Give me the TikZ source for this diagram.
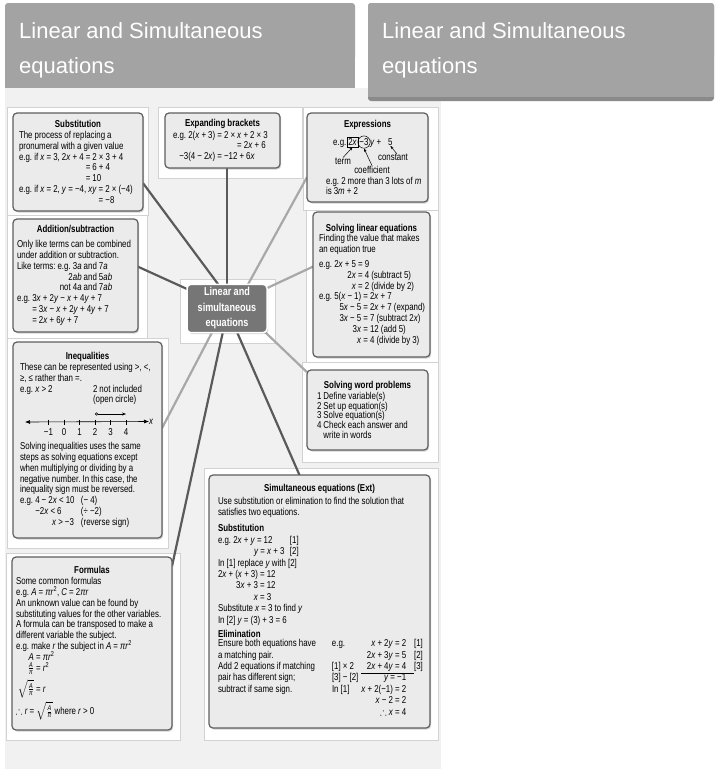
\documentclass[tikz,border=0pt]{standalone}
\usepackage{amsmath, amssymb}
\usepackage{fontspec}
\setmainfont{Liberation Sans}[FakeStretch=0.79, WordSpace=0.95]
\newfontfamily\headfont{Liberation Sans}
\usetikzlibrary{arrows.meta, shadows, positioning}

\definecolor{headgray}{HTML}{A3A3A3}
\definecolor{headdark}{HTML}{8A8A8A}
\definecolor{mapbg}{HTML}{F1F1F1}
\definecolor{panelline}{HTML}{D2D2D2}
\definecolor{cardfill}{HTML}{EBEBEB}
\definecolor{cardline}{HTML}{5E5E5E}
\definecolor{hubfill}{HTML}{767676}
\definecolor{spokedark}{HTML}{5A5A5A}
\definecolor{spokegray}{HTML}{A8A8A8}

\pgfdeclarelayer{bg}
\pgfsetlayers{bg,main}

\newcommand{\vr}[1]{\textit{#1}}
\newcommand{\cardhead}[2]{\makebox[#1]{\bfseries #2}}
\newlength{\eqw}
\newcommand{\lhsbox}[2]{\settowidth{\eqw}{#1}\makebox[\eqw][r]{#2}}

\begin{document}
\frenchspacing
\begin{tikzpicture}[x=1pt, y=-1pt,
        card/.style={rectangle, draw=cardline, line width=1.2pt, fill=cardfill, rounded corners=4pt,
            drop shadow={shadow xshift=1.2pt, shadow yshift=-1.5pt, opacity=0.35},
            inner xsep=4pt, inner ysep=3pt, outer sep=0pt, align=left, font=\fontsize{10}{10.8}\selectfont},
        hub/.style={rectangle, draw=white, line width=1.5pt, fill=hubfill, rounded corners=4pt, text=white,
            drop shadow={shadow xshift=1.2pt, shadow yshift=-1.5pt, opacity=0.35},
            minimum width=80pt, minimum height=47pt, outer sep=0pt, align=center,
            font=\bfseries\fontsize{11.5}{15.5}\selectfont},
        panel/.style={draw=panelline, fill=white, line width=0.6pt},
        headtext/.style={text=white, inner sep=0pt, anchor=base west, font=\headfont\fontsize{22}{26}\selectfont},
        spoke/.style={line width=2.2pt, color=spokedark},
        lightspoke/.style={line width=2.2pt, color=spokegray},
        pointer/.style={-{Stealth[length=3.5pt, width=2.6pt]}, line width=0.5pt},
        note/.style={inner sep=0pt, font=\fontsize{10}{10.8}\selectfont}
    ]
    \useasboundingbox (0,0) rectangle (716,769);

    \begin{pgfonlayer}{bg}
        \fill[mapbg] (5,88) rectangle (441,769);
        \foreach \xa/\ya/\xb/\yb in {7/107/148/215, 158/107/302/178, 303/107/438/210, 7/215/147/338,
                180/279/275/343, 306/210/438/362, 7/338/168/548, 302/362/438/462,
                204/468/438/740, 6/553/180/740}
            \draw[panel] (\xa,\ya) rectangle (\xb,\yb);
    \end{pgfonlayer}

    \fill[headgray, rounded corners=3pt] (5,3) rectangle (355,60);
    \fill[headgray] (5,30) rectangle (355,88);
    \fill[headdark, rounded corners=3pt] (368,3) rectangle (714,101);
    \fill[headgray, rounded corners=3pt] (368,3) rectangle (714,60);
    \fill[headgray] (368,30) rectangle (714,97);
    \node[headtext] (headL) at (19,38) {Linear and Simultaneous};
    \node[headtext] (headLb) at (19,73) {equations};
    \node[headtext] (headR) at (382,38) {Linear and Simultaneous};
    \node[headtext] (headRb) at (382,73) {equations};

    \node[card, minimum height=98pt] (subst) at (78,162)
        {\cardhead{122pt}{Substitution}\\
         \hspace*{2pt}The process of replacing a\\
         \hspace*{2pt}pronumeral with a given value\\
         \hspace*{2pt}e.g. if \vr{x} = 3, 2\vr{x} + 4 = 2 × 3 + 4\\
         \lhsbox{\hspace*{2pt}e.g. if \vr{x} = 3, 2\vr{x} + 4 }{}= 6 + 4\\
         \lhsbox{\hspace*{2pt}e.g. if \vr{x} = 3, 2\vr{x} + 4 }{}= 10\\
         \hspace*{2pt}e.g. if \vr{x} = 2, \vr{y} = −4, \vr{xy} = 2 × (−4)\\
         \lhsbox{\hspace*{2pt}e.g. if \vr{x} = 2, \vr{y} = −4, \vr{xy} }{}= −8};

    \node[card, minimum height=55pt] (expand) at (222.5,140.5)
        {\cardhead{107pt}{Expanding brackets}\\[1pt]
         \hspace*{4pt}e.g. 2(\vr{x} + 3) = 2 × \vr{x} + 2 × 3\\
         \lhsbox{\hspace*{4pt}e.g. 2(\vr{x} + 3) = 2 × }{}= 2\vr{x} + 6\\
         \lhsbox{\hspace*{4pt}e.g. 2(\vr{x} + 3) }{−3(4 − 2\vr{x}) }= −12 + 6\vr{x}};

    \node[card, minimum height=89pt] (expr) at (367.5,157.5)
        {\cardhead{113pt}{Expressions}\\[46pt]
         \hspace*{15pt}e.g. 2 more than 3 lots of \vr{m}\\
         \hspace*{15pt}is 3\vr{m} + 2};

    \node[card, minimum height=113pt] (addsub) at (75.5,275.5)
        {\cardhead{117pt}{Addition/subtraction}\\[4pt]
         Only like terms can be combined\\
         under addition or subtraction.\\
         Like terms: e.g. 3\vr{a} and 7\vr{a}\\
         \lhsbox{Like terms: e.g. 3\vr{a} }{2\vr{ab} }and 5\vr{ab}\\
         \lhsbox{Like terms: e.g. 3\vr{a} }{not 4\vr{a} }and 7\vr{ab}\\
         e.g. 3\vr{x} + 2\vr{y} − \vr{x} + 4\vr{y} + 7\\
         \lhsbox{e.g. }{}= 3\vr{x} − \vr{x} + 2\vr{y} + 4\vr{y} + 7\\
         \lhsbox{e.g. }{}= 2\vr{x} + 6\vr{y} + 7};

    \node[card, minimum height=145pt] (solve) at (371.5,284.5)
        {\cardhead{109pt}{Solving linear equations}\\
         \hspace*{2pt}Finding the value that makes\\
         \hspace*{2pt}an equation true\\[4pt]
         \hspace*{2pt}e.g. 2\vr{x} + 5 = 9\\
         \lhsbox{\hspace*{2pt}e.g. 2\vr{x} + 5 }{2\vr{x} }= 4 (subtract 5)\\
         \lhsbox{\hspace*{2pt}e.g. 2\vr{x} + 5 }{\vr{x} }= 2 (divide by 2)\\
         \hspace*{2pt}e.g. 5(\vr{x} − 1) = 2\vr{x} + 7\\
         \lhsbox{\hspace*{2pt}e.g. 5(\vr{x} − 1) }{5\vr{x} − 5 }= 2\vr{x} + 7 (expand)\\
         \lhsbox{\hspace*{2pt}e.g. 5(\vr{x} − 1) }{3\vr{x} − 5 }= 7 (subtract 2\vr{x})\\
         \lhsbox{\hspace*{2pt}e.g. 5(\vr{x} − 1) }{3\vr{x} }= 12 (add 5)\\
         \lhsbox{\hspace*{2pt}e.g. 5(\vr{x} − 1) }{\vr{x} }= 4 (divide by 3)};

    \node[card, inner xsep=5pt, minimum height=80pt, font=\fontsize{10}{9.8}\selectfont] (word) at (367.5,410)
        {\cardhead{111pt}{Solving word problems}\\[1pt]
         \hspace*{5pt}1 Define variable(s)\\
         \hspace*{5pt}2 Set up equation(s)\\
         \hspace*{5pt}3 Solve equation(s)\\
         \hspace*{5pt}4 Check each answer and\\
         \lhsbox{\hspace*{5pt}4 }{}write in words};

    \node[card, minimum height=196pt] (ineq) at (87.5,440)
        {\cardhead{141pt}{Inequalities}\\
         \hspace*{3pt}These can be represented using >, <,\\
         \hspace*{3pt}≥, ≤ rather than =.\\
         \hspace*{3pt}\makebox[73pt][l]{e.g. \vr{x} > 2}2 not included\\
         \hspace*{76pt}(open circle)\\[36pt]
         \hspace*{3pt}Solving inequalities uses the same\\
         \hspace*{3pt}steps as solving equations except\\
         \hspace*{3pt}when multiplying or dividing by a\\
         \hspace*{3pt}negative number. In this case, the\\
         \hspace*{3pt}inequality sign must be reversed.\\
         \hspace*{3pt}\makebox[61pt][l]{e.g. 4 − 2\vr{x} < 10}(− 4)\\
         \hspace*{3pt}\makebox[61pt][l]{\lhsbox{e.g. }{}−2\vr{x} < 6}(÷ −2)\\
         \hspace*{3pt}\makebox[61pt][l]{\hspace*{32pt}\vr{x} > −3}(reverse sign)};

    \node[card, minimum height=173pt] (form) at (92,643.5)
        {\cardhead{152pt}{Formulas}\\
         Some common formulas\\
         e.g. \vr{A} = \vr{πr}\textsuperscript{2}, \vr{C} = 2\vr{πr}\\
         An unknown value can be found by\\
         substituting values for the other variables.\\
         A formula can be transposed to make a\\
         different variable the subject.\\
         e.g. make \vr{r} the subject in \vr{A} = \vr{πr}\textsuperscript{2}\\
         \makebox[18pt][r]{\vr{A}} = \vr{πr}\textsuperscript{2}\\
         \makebox[18pt][r]{$\frac{\vr{A}}{\vr{π}}$} = \vr{r}\textsuperscript{2}\\[4pt]
         \makebox[18pt][r]{$\sqrt{\frac{\vr{A}}{\vr{π}}}$} = \vr{r}\\[3pt]
         $\therefore$ \vr{r} = $\sqrt{\frac{\vr{A}}{\vr{π}}}$\ where \vr{r} > 0};

    \node[card, minimum height=253pt, font=\fontsize{10}{11.4}\selectfont] (simul) at (319.5,601.5)
        {\cardhead{213pt}{Simultaneous equations (Ext)}\\[1pt]
         \hspace*{5pt}Use substitution or elimination to find the solution that\\
         \hspace*{5pt}satisfies two equations.\\[5pt]
         \hspace*{5pt}\textbf{Substitution}\\
         \hspace*{5pt}\makebox[72pt][l]{e.g. 2\vr{x} + \vr{y} = 12}[1]\\
         \hspace*{5pt}\makebox[72pt][l]{\hspace*{36pt}\vr{y} = \vr{x} + 3}[2]\\
         \hspace*{5pt}In [1] replace \vr{y} with [2]\\
         \hspace*{5pt}2\vr{x} + (\vr{x} + 3) = 12\\
         \lhsbox{\hspace*{5pt}2\vr{x} + (\vr{x} + 3) }{3\vr{x} + 3 }= 12\\
         \lhsbox{\hspace*{5pt}2\vr{x} + (\vr{x} + 3) }{\vr{x} }= 3\\
         \hspace*{5pt}Substitute \vr{x} = 3 to find \vr{y}\\
         \hspace*{5pt}In [2] \vr{y} = (3) + 3 = 6\\[3pt]
         \hspace*{5pt}\textbf{Elimination}\\
         \hspace*{5pt}\begin{tabular}{@{}p{114pt}@{}l@{\hspace{3pt}}r@{\hspace{8pt}}l@{}}
         Ensure both equations have & e.g. & \vr{x} + 2\vr{y} = 2 & [1]\\
         a matching pair. & & 2\vr{x} + 3\vr{y} = 5 & [2]\\
         Add 2 equations if matching & [1] × 2 & 2\vr{x} + 4\vr{y} = 4 & [3]\\ \cline{3-3}
         pair has different sign; & [3] − [2] & \vr{y} = −1 & \\
         subtract if same sign. & In [1] & \vr{x} + 2(−1) = 2 & \\
         & & \vr{x} − 2 = 2 & \\
         & & $\therefore$ \vr{x} = 4 &
         \end{tabular}};

    \node[hub] (hub) at (227,308.5) {Linear and\\simultaneous\\equations};

    \begin{pgfonlayer}{bg}
        \draw[spoke] (subst.-18) -- (hub.110);
        \draw[spoke] (hub.north) -- (hub.north |- expand.south);
        \draw[lightspoke] (expr.198) -- (hub.49);
        \draw[spoke] (addsub.8) -- (hub.154);
        \draw[lightspoke] (solve.163) -- (hub.27);
        \draw[lightspoke] (word.148) -- (hub.-32);
        \draw[lightspoke] (ineq.9) -- (hub.-122);
        \draw[spoke] (form.44) -- (hub.-100);
        \draw[spoke] (simul.99) -- (hub.-67);
    \end{pgfonlayer}

    \node[note, anchor=base west] (exeg) at (333,145.5) {e.g.};
    \node[note, draw, line width=0.5pt, inner sep=1.5pt, anchor=base west] (term) at (346.5,145.5) {2\vr{x}};
    \node[note, draw, circle, line width=0.5pt, inner sep=0.3pt, anchor=base] (coef) at (364,145.5) {−3};
    \node[note, anchor=base west] (rest) at (370,145.5) {\vr{y} +};
    \node[note, anchor=base west] (five) at (388,145.5) {5};
    \node[note] (termlbl) at (343,161) {term};
    \node[note] (coeflbl) at (372,169.5) {coefficient};
    \node[note] (constlbl) at (393,157.5) {constant};
    \draw[pointer] (termlbl.north) -- (term.south);
    \draw[pointer] (coeflbl.north) -- (coef.south);
    \draw[pointer] ([xshift=4pt]constlbl.north) -- (five.south);

    \node[note, anchor=west] (xaxis) at (149,421.5) {\vr{x}};
    \draw[{Latex[length=5pt, width=4pt]}-{Latex[length=5pt, width=4pt]}, line width=0.6pt] (25,422) -- (xaxis.west);
    \foreach \n/\lab in {-1/−1, 0/0, 1/1, 2/2, 3/3, 4/4} {
        \draw[line width=0.5pt] ({64+15.5*(\n)},419.5) -- ({64+15.5*(\n)},424.5);
        \node[note] at ({64+15.5*(\n)},432) {\lab};
    }
    \draw[{Circle[open, length=3pt]}-{Stealth[length=4pt, width=3pt]}, line width=0.5pt] (95,414) -- (126,414);
\end{tikzpicture}
\end{document}
